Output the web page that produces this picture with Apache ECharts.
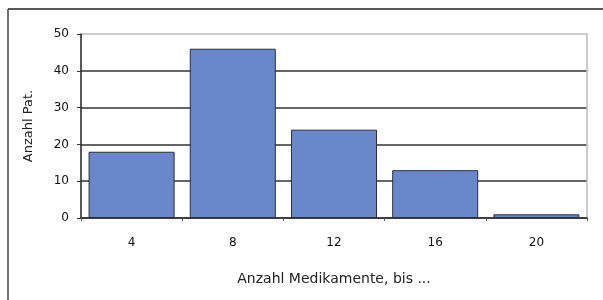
<!DOCTYPE html>
<html>
<head>
<meta charset="utf-8">
<script src="https://cdn.jsdelivr.net/npm/echarts@6/dist/echarts.min.js"></script>
<style>
  html, body { margin: 0; padding: 0; background: #fff; }
  #chart { width: 603px; height: 300px; }
</style>
</head>
<body>
<div id="chart"></div>
<script>
// Kategorien (Anzahl Medikamente, bis ...)
const categories = ['4', '8', '12', '16', '20']
// Anzahl Patienten
const patients = [18, 46, 24, 13, 1]
const yTicks = [0, 10, 20, 30, 40, 50]

const chart = echarts.init(document.getElementById('chart'))
const textFont = 'DejaVu Sans, Verdana, sans-serif'

const option = {
  backgroundColor: '#fff',
  animation: false,
  grid: {
    left: 81,
    right: 16,
    top: 34,
    bottom: 82,
  },
  graphic: [
    // Rahmen oben und links
    { type: 'line', shape: { x1: 8, y1: 9, x2: 603, y2: 9 }, style: { stroke: '#222', lineWidth: 1.5 } },
    { type: 'line', shape: { x1: 8, y1: 9, x2: 8, y2: 300 }, style: { stroke: '#444', lineWidth: 1.5 } },
  ],
  xAxis: {
    type: 'category',
    data: categories,
    name: 'Anzahl Medikamente, bis ...',
    nameLocation: 'middle',
    nameGap: 54,
    nameTextStyle: { color: '#222', fontSize: 14, fontFamily: textFont },
    axisLine: { lineStyle: { color: '#333', width: 1.5 } },
    axisTick: { show: true, length: 3, lineStyle: { color: '#555' } },
    axisLabel: { color: '#111', fontSize: 12, fontFamily: textFont, margin: 19 },
  },
  yAxis: [
    {
      type: 'value',
      min: yTicks[0],
      max: yTicks[yTicks.length - 1],
      interval: 10,
      name: 'Anzahl Pat.',
      nameLocation: 'middle',
      nameGap: 46,
      nameTextStyle: { color: '#222', fontSize: 13, fontFamily: textFont },
      axisLine: { show: true, lineStyle: { color: '#222', width: 1.5 } },
      axisTick: { show: true, length: 4, lineStyle: { color: '#333' } },
      axisLabel: { color: '#111', fontSize: 12, fontFamily: textFont, margin: 12 },
      splitLine: {
        lineStyle: {
          // oberste Linie heller
          color: ['#333', '#333', '#333', '#333', '#333', '#bbb'],
          width: 1.5,
        }
      },
    },
    {
      type: 'value',
      position: 'right',
      min: yTicks[0],
      max: yTicks[yTicks.length - 1],
      interval: 10,
      axisLine: { show: true, lineStyle: { color: '#bbb', width: 1.5 } },
      axisTick: { show: false },
      axisLabel: { show: false },
      splitLine: { show: false },
    }
  ],
  series: [
    {
      type: 'bar',
      data: patients,
      barCategoryGap: '15%',
      itemStyle: {
        color: '#6a87c9',
        borderColor: '#2a2f45',
        borderWidth: 1,
      },
    }
  ]
}
chart.setOption(option)
</script>
</body>
</html>
